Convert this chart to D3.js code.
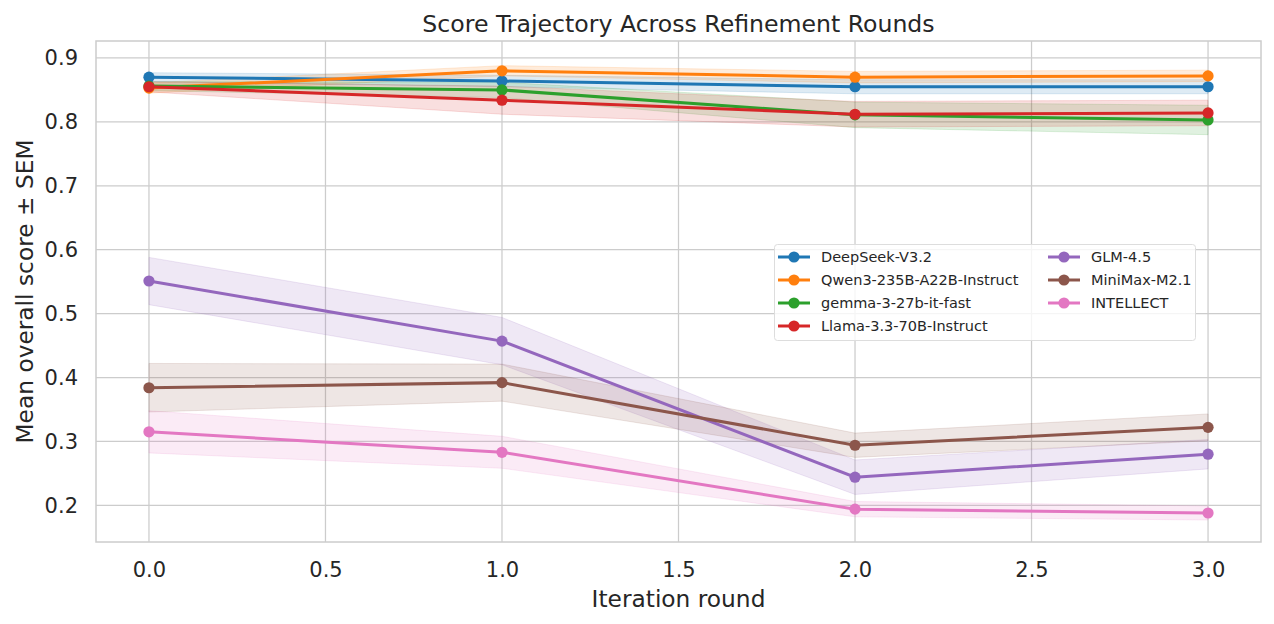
<!DOCTYPE html>
<html>
<head>
<meta charset="utf-8">
<script src="https://cdn.jsdelivr.net/npm/d3@7"></script>
<style>
  html, body { margin: 0; padding: 0; background: #fff; }
  svg { display: block; font-family: "DejaVu Sans", sans-serif; }
</style>
</head>
<body>
<svg id="chart" width="1274" height="624"></svg>
<script>
const rounds = [0, 1, 2, 3];
const models = ["DeepSeek-V3.2", "Qwen3-235B-A22B-Instruct", "gemma-3-27b-it-fast", "Llama-3.3-70B-Instruct", "GLM-4.5", "MiniMax-M2.1", "INTELLECT"];
const colors = ["#1f77b4", "#ff7f0e", "#2ca02c", "#d62728", "#9467bd", "#8c564b", "#e377c2"];
const means = [
  [0.870, 0.864, 0.855, 0.855],
  [0.853, 0.880, 0.870, 0.872],
  [0.856, 0.850, 0.811, 0.803],
  [0.855, 0.834, 0.812, 0.814],
  [0.551, 0.457, 0.244, 0.280],
  [0.384, 0.392, 0.294, 0.322],
  [0.315, 0.283, 0.194, 0.188]
];
const sems = [
  [0.007, 0.009, 0.011, 0.011],
  [0.008, 0.008, 0.009, 0.009],
  [0.007, 0.012, 0.020, 0.023],
  [0.008, 0.022, 0.020, 0.020],
  [0.037, 0.037, 0.027, 0.023],
  [0.038, 0.029, 0.019, 0.021],
  [0.033, 0.025, 0.012, 0.011]
];
const xTicks = [0, 0.5, 1, 1.5, 2, 2.5, 3];
const yTicks = [0.2, 0.3, 0.4, 0.5, 0.6, 0.7, 0.8, 0.9];

const W = 1274, H = 624;
const m = { left: 96, right: 13, top: 41, bottom: 82 };
const svg = d3.select("#chart");
const iw = W - m.left - m.right, ih = H - m.top - m.bottom;

const x = d3.scaleLinear().domain([-0.15, 3.15]).range([m.left, m.left + iw]);
const y = d3.scaleLinear().domain([0.1426, 0.9266]).range([m.top + ih, m.top]);

const textColor = "#262626";
const gridColor = "#cccccc";

// grid
const g = svg.append("g");
g.selectAll(".gx").data(xTicks).join("line")
  .attr("x1", d => x(d)).attr("x2", d => x(d))
  .attr("y1", m.top).attr("y2", m.top + ih)
  .attr("stroke", gridColor).attr("stroke-width", 1.25);
g.selectAll(".gy").data(yTicks).join("line")
  .attr("y1", d => y(d)).attr("y2", d => y(d))
  .attr("x1", m.left).attr("x2", m.left + iw)
  .attr("stroke", gridColor).attr("stroke-width", 1.25);

// axes with d3
const xAxis = d3.axisBottom(x).tickValues(xTicks).tickFormat(d3.format(".1f")).tickSize(0).tickPadding(20);
const yAxis = d3.axisLeft(y).tickValues(yTicks).tickFormat(d3.format(".1f")).tickSize(0).tickPadding(18);
const gx = svg.append("g").attr("transform", `translate(0,${m.top + ih})`).call(xAxis);
const gy = svg.append("g").attr("transform", `translate(${m.left},0)`).call(yAxis);
[gx, gy].forEach(a => {
  a.select(".domain").remove();
  a.selectAll("text").attr("fill", textColor).style("font-size", "21px").style("font-family", "DejaVu Sans");
});

// spines
svg.append("rect").attr("x", m.left).attr("y", m.top).attr("width", iw).attr("height", ih)
  .attr("fill", "none").attr("stroke", gridColor).attr("stroke-width", 1.5);

// bands
const area = d3.area().x((d, i) => x(rounds[i])).y0(d => y(d[0] - d[1])).y1(d => y(d[0] + d[1]));
const line = d3.line().x((d, i) => x(rounds[i])).y(d => y(d));
models.forEach((name, k) => {
  const pts = means[k].map((v, i) => [v, sems[k][i]]);
  svg.append("path").attr("d", area(pts)).attr("fill", colors[k]).attr("fill-opacity", 0.15)
    .attr("stroke", colors[k]).attr("stroke-opacity", 0.15).attr("stroke-width", 1);
});
models.forEach((name, k) => {
  svg.append("path").attr("d", line(means[k])).attr("fill", "none").attr("stroke", colors[k]).attr("stroke-width", 3);
  svg.append("g").selectAll("circle").data(means[k]).join("circle")
    .attr("cx", (d, i) => x(rounds[i])).attr("cy", d => y(d)).attr("r", 5.6).attr("fill", colors[k]);
});

// title & labels
svg.append("text").attr("x", m.left + iw / 2).attr("y", 32).attr("text-anchor", "middle")
  .attr("fill", textColor).style("font-size", "23.6px").text("Score Trajectory Across Refinement Rounds");
svg.append("text").attr("x", m.left + iw / 2).attr("y", 607).attr("text-anchor", "middle")
  .attr("fill", textColor).style("font-size", "23.3px").text("Iteration round");
svg.append("text").attr("transform", `translate(33,${m.top + ih / 2}) rotate(-90)`).attr("text-anchor", "middle")
  .attr("fill", textColor).style("font-size", "23.3px").text("Mean overall score ± SEM");

// legend
const lg = svg.append("g");
lg.append("rect").attr("x", 774.5).attr("y", 244.5).attr("width", 421).attr("height", 96).attr("rx", 3)
  .attr("fill", "#fff").attr("fill-opacity", 0.8).attr("stroke", "#dddddd").attr("stroke-width", 1);
const colX = [778, 1048];
models.forEach((name, k) => {
  const col = k < 4 ? 0 : 1, row = k < 4 ? k : k - 4;
  const ly = 257 + row * 23;
  const hx = colX[col];
  lg.append("line").attr("x1", hx).attr("x2", hx + 32).attr("y1", ly).attr("y2", ly)
    .attr("stroke", colors[k]).attr("stroke-width", 3);
  lg.append("circle").attr("cx", hx + 16).attr("cy", ly).attr("r", 5.6).attr("fill", colors[k]);
  lg.append("text").attr("x", hx + 43).attr("y", ly).attr("dy", "0.35em")
    .attr("fill", textColor).style("font-size", "14.5px").text(name);
});
</script>
</body>
</html>
